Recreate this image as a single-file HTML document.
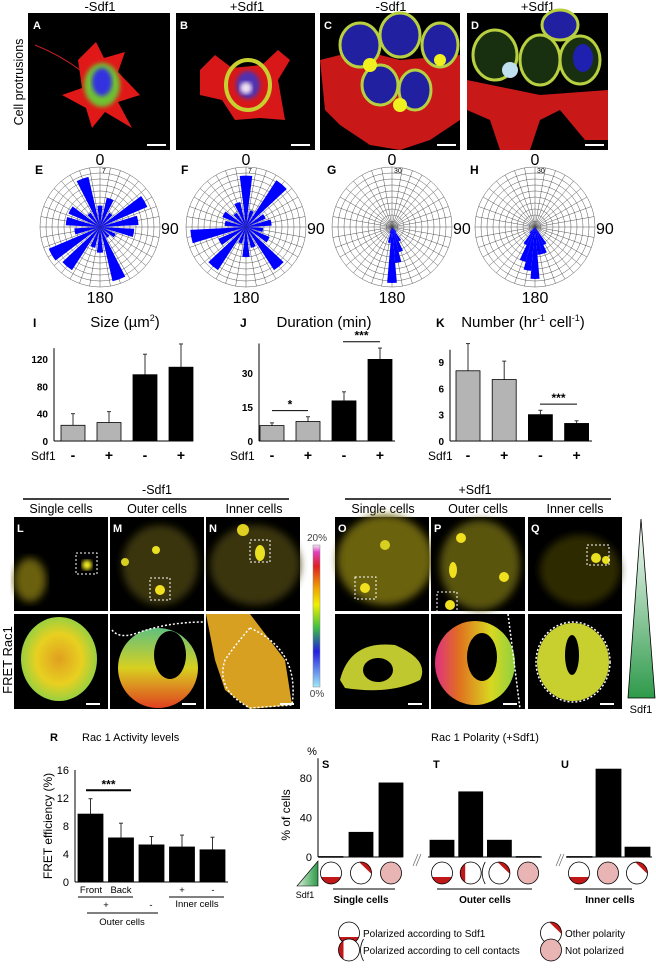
<!DOCTYPE html>
<html><head><meta charset="utf-8">
<style>
html,body{margin:0;padding:0;background:#fff;}
svg{display:block;font-family:"Liberation Sans",Arial,sans-serif;}
</style></head>
<body>
<svg id="fig" width="656" height="972" viewBox="0 0 656 972" xmlns="http://www.w3.org/2000/svg">
<defs>
<filter id="blur2"><feGaussianBlur stdDeviation="2"/></filter>
<filter id="blur4"><feGaussianBlur stdDeviation="4"/></filter>
<linearGradient id="cbar" x1="0" y1="0" x2="0" y2="1">
<stop offset="0" stop-color="#f4e8f8"/><stop offset="0.05" stop-color="#e040c0"/><stop offset="0.15" stop-color="#e02020"/><stop offset="0.3" stop-color="#f0a000"/><stop offset="0.42" stop-color="#f0f000"/><stop offset="0.58" stop-color="#40c040"/><stop offset="0.75" stop-color="#2020e0"/><stop offset="1" stop-color="#a0e8f8"/></linearGradient>
<linearGradient id="tri" x1="0" y1="0" x2="0" y2="1"><stop offset="0" stop-color="#fff"/><stop offset="1" stop-color="#2e9a4a"/></linearGradient>
<linearGradient id="tri2" x1="1" y1="0" x2="0" y2="0"><stop offset="0" stop-color="#2e9a4a"/><stop offset="1" stop-color="#d8f0d8"/></linearGradient>
<radialGradient id="fretA"><stop offset="0" stop-color="#e0a020"/><stop offset="0.6" stop-color="#e8d020"/><stop offset="1" stop-color="#9ad040"/></radialGradient>
<linearGradient id="fretB" x1="0" y1="0" x2="0" y2="1"><stop offset="0" stop-color="#60c080"/><stop offset="0.5" stop-color="#d8d020"/><stop offset="1" stop-color="#e04020"/></linearGradient>
<linearGradient id="fretP" x1="0" y1="0" x2="1" y2="0"><stop offset="0" stop-color="#e03080"/><stop offset="0.3" stop-color="#e07020"/><stop offset="0.7" stop-color="#d8d820"/><stop offset="1" stop-color="#90d040"/></linearGradient>
</defs>

<g font-size="13" text-anchor="middle" fill="#000">
<text x="100" y="11">-Sdf1</text>
<text x="247" y="11">+Sdf1</text>
<text x="391" y="11">-Sdf1</text>
<text x="538" y="11">+Sdf1</text>
</g>
<text transform="translate(23,82) rotate(-90)" font-size="12.5" text-anchor="middle">Cell protrusions</text>

<g>
<rect x="28" y="13" width="142" height="137" fill="#000"/>
<path d="M35 45 Q60 55 80 70" stroke="#c02020" stroke-width="1" fill="none"/>
<polygon points="78,60 96,42 104,58 125,52 118,72 140,95 118,102 132,128 105,112 92,128 86,108 62,95 82,88" fill="#e01818"/>
<ellipse cx="102" cy="85" rx="18" ry="22" fill="#70c030" filter="url(#blur2)"/>
<ellipse cx="102" cy="82" rx="10" ry="14" fill="#3030e0" filter="url(#blur2)"/>
<text x="33" y="29" fill="#fff" font-weight="bold" font-size="11">A</text>
<rect x="147" y="144" width="19" height="2" fill="#fff"/>
</g>
<g>
<rect x="176" y="13" width="139" height="137" fill="#000"/>
<polygon points="200,70 215,55 232,68 262,65 278,50 290,60 278,80 285,120 260,118 235,120 222,100 200,95" fill="#d81818"/>
<ellipse cx="248" cy="85" rx="22" ry="25" fill="none" stroke="#c8d030" stroke-width="4"/>
<ellipse cx="248" cy="85" rx="12" ry="14" fill="#5030b0" filter="url(#blur2)"/>
<ellipse cx="246" cy="88" rx="6" ry="6" fill="#f0e0f0" filter="url(#blur2)"/>
<text x="180" y="29" fill="#fff" font-weight="bold" font-size="11">B</text>
<rect x="291" y="144" width="19" height="2" fill="#fff"/>
</g>
<g>
<rect x="320" y="13" width="140" height="137" fill="#000"/>
<polygon points="320,60 360,50 400,60 460,55 460,120 430,140 400,150 370,145 340,125 325,110" fill="#c81818"/>
<g stroke="#b8d040" stroke-width="3" fill="#2020a0">
<ellipse cx="360" cy="45" rx="20" ry="22"/><ellipse cx="400" cy="35" rx="20" ry="22"/><ellipse cx="440" cy="45" rx="18" ry="22"/>
<ellipse cx="380" cy="85" rx="18" ry="20"/><ellipse cx="415" cy="90" rx="16" ry="20"/></g>
<circle cx="370" cy="65" r="7" fill="#f0f020"/><circle cx="400" cy="105" r="7" fill="#f0f020"/><circle cx="440" cy="60" r="6" fill="#f0f020"/>
<text x="324" y="29" fill="#fff" font-weight="bold" font-size="11">C</text>
<rect x="437" y="144" width="19" height="2" fill="#fff"/>
</g>
<g>
<rect x="467" y="13" width="141" height="137" fill="#000"/>
<polygon points="467,80 540,95 608,90 608,140 585,140 560,110 540,120 530,150 500,150 490,120 467,110" fill="#c81818"/>
<g stroke="#b8d040" stroke-width="3" fill="#183010">
<ellipse cx="495" cy="55" rx="22" ry="25"/><ellipse cx="540" cy="60" rx="20" ry="25"/><ellipse cx="580" cy="60" rx="20" ry="24"/>
<ellipse cx="560" cy="25" rx="18" ry="15" fill="#2020a0"/></g>
<ellipse cx="583" cy="58" rx="10" ry="14" fill="#2020b0"/>
<circle cx="510" cy="70" r="8" fill="#c0e0f0"/>
<text x="471" y="29" fill="#fff" font-weight="bold" font-size="11">D</text>
<rect x="585" y="144" width="19" height="2" fill="#fff"/>
</g>

<g font-size="12.5" text-anchor="middle">
<text x="157" y="494">-Sdf1</text>
<line x1="23" y1="499" x2="289" y2="499" stroke="#000" stroke-width="1.5"/>
<text x="61" y="513">Single cells</text>
<text x="157" y="513">Outer cells</text>
<text x="254" y="513">Inner cells</text>
<text x="475" y="494">+Sdf1</text>
<line x1="345" y1="499" x2="611" y2="499" stroke="#000" stroke-width="1.5"/>
<text x="383" y="513">Single cells</text>
<text x="478" y="513">Outer cells</text>
<text x="575" y="513">Inner cells</text>
</g>
<text transform="translate(12,660) rotate(-90)" font-size="13" text-anchor="middle">FRET Rac1</text>

<g><rect x="14" y="517" width="94" height="94" fill="#000"/>
<ellipse cx="30" cy="580" rx="16" ry="22" fill="#6a6010" filter="url(#blur4)"/><circle cx="87" cy="565" r="5" fill="#f8f020" filter="url(#blur2)"/>
<rect x="76" y="553" width="21" height="21" fill="none" stroke="#fff" stroke-dasharray="2,2"/>
<text x="17" y="532" fill="#fff" font-weight="bold" font-size="11">L</text></g>
<g><rect x="110" y="517" width="94" height="94" fill="#000"/>
<ellipse cx="160" cy="565" rx="38" ry="40" fill="#3a3608" filter="url(#blur4)"/><circle cx="156" cy="550" r="4" fill="#e8e020"/><circle cx="160" cy="590" r="5" fill="#f0e020"/><circle cx="125" cy="562" r="4" fill="#d8d020"/>
<rect x="150" y="578" width="20" height="22" fill="none" stroke="#fff" stroke-dasharray="2,2"/>
<text x="113" y="532" fill="#fff" font-weight="bold" font-size="11">M</text></g>
<g><rect x="206" y="517" width="94" height="94" fill="#000"/>
<ellipse cx="255" cy="565" rx="45" ry="40" fill="#3a3608" filter="url(#blur4)"/><circle cx="243" cy="530" r="6" fill="#e0d020"/><ellipse cx="260" cy="553" rx="5" ry="8" fill="#e8e020"/>
<rect x="250" y="540" width="20" height="22" fill="none" stroke="#fff" stroke-dasharray="2,2"/>
<text x="209" y="532" fill="#fff" font-weight="bold" font-size="11">N</text></g>
<g><rect x="335" y="517" width="94" height="94" fill="#000"/>
<ellipse cx="385" cy="560" rx="48" ry="45" fill="#6a6210" filter="url(#blur4)"/><circle cx="365" cy="588" r="5" fill="#f0e020"/><circle cx="385" cy="545" r="5" fill="#d8d020"/>
<rect x="355" y="577" width="21" height="22" fill="none" stroke="#fff" stroke-dasharray="2,2"/>
<text x="338" y="532" fill="#fff" font-weight="bold" font-size="11">O</text></g>
<g><rect x="431" y="517" width="94" height="94" fill="#000"/>
<ellipse cx="480" cy="565" rx="40" ry="45" fill="#5a5410" filter="url(#blur4)"/><circle cx="461" cy="538" r="5" fill="#f0e020"/><circle cx="450" cy="605" r="5" fill="#f0e020"/><circle cx="504" cy="577" r="5" fill="#f0e020"/><ellipse cx="453" cy="570" rx="4" ry="8" fill="#f0e020"/>
<rect x="437" y="592" width="20" height="24" fill="none" stroke="#fff" stroke-dasharray="2,2"/>
<text x="434" y="532" fill="#fff" font-weight="bold" font-size="11">P</text></g>
<g><rect x="528" y="517" width="94" height="94" fill="#000"/>
<ellipse cx="580" cy="570" rx="40" ry="35" fill="#2e2a06" filter="url(#blur4)"/><circle cx="596" cy="558" r="5" fill="#e8e020"/><circle cx="606" cy="560" r="4" fill="#e8e020"/>
<rect x="587" y="545" width="22" height="20" fill="none" stroke="#fff" stroke-dasharray="2,2"/>
<text x="531" y="532" fill="#fff" font-weight="bold" font-size="11">Q</text></g>

<g><rect x="14" y="614" width="94" height="95" fill="#000"/>
<ellipse cx="59" cy="659" rx="38" ry="42" fill="url(#fretA)"/><rect x="86" y="703" width="14" height="2" fill="#fff"/></g>
<g><rect x="110" y="614" width="94" height="95" fill="#000"/>
<ellipse cx="158" cy="668" rx="40" ry="40" fill="url(#fretB)"/><ellipse cx="170" cy="655" rx="16" ry="24" fill="#000"/>
<path d="M112 630 Q120 640 140 632 Q170 622 204 622" stroke="#fff" stroke-dasharray="2,2" fill="none" stroke-width="1.5"/>
<rect x="182" y="703" width="14" height="2" fill="#fff"/></g>
<g><rect x="206" y="614" width="94" height="95" fill="#000"/>
<path d="M206 614 L250 614 L285 660 L292 705 L250 709 L225 690 L215 660 Z" fill="#d8a020"/>
<path d="M250 628 Q300 650 292 705 L250 708 Q215 690 225 660 Q235 645 250 628" stroke="#fff" stroke-dasharray="2,2" fill="none" stroke-width="1.5"/>
<rect x="280" y="703" width="14" height="2" fill="#fff"/></g>
<g><rect x="335" y="614" width="94" height="95" fill="#000"/>
<path d="M340 680 Q350 640 395 645 Q430 660 420 680 Q390 695 345 688 Z" fill="#c0c830"/><ellipse cx="378" cy="670" rx="15" ry="12" fill="#000"/>
<rect x="408" y="703" width="14" height="2" fill="#fff"/></g>
<g><rect x="431" y="614" width="94" height="95" fill="#000"/>
<ellipse cx="475" cy="663" rx="40" ry="42" fill="url(#fretP)"/><ellipse cx="482" cy="657" rx="15" ry="24" fill="#000"/>
<line x1="508" y1="614" x2="520" y2="709" stroke="#fff" stroke-dasharray="2,2" stroke-width="1.5"/>
<rect x="503" y="703" width="14" height="2" fill="#fff"/></g>
<g><rect x="528" y="614" width="94" height="95" fill="#000"/>
<ellipse cx="573" cy="662" rx="36" ry="39" fill="#c8d030"/><ellipse cx="572" cy="655" rx="7" ry="20" fill="#000"/>
<ellipse cx="573" cy="662" rx="37" ry="40" fill="none" stroke="#fff" stroke-dasharray="2,2" stroke-width="1.5"/>
<rect x="600" y="703" width="14" height="2" fill="#fff"/></g>

<rect x="313" y="545" width="7" height="142" fill="url(#cbar)" stroke="#888" stroke-width="0.5"/>
<text x="317" y="541" font-size="10" text-anchor="middle" fill="#444">20%</text>
<text x="317" y="697" font-size="10" text-anchor="middle" fill="#444">0%</text>
<polygon points="641,519 628,698 655,698" fill="url(#tri)" stroke="#000" stroke-width="0.8"/>
<text x="641" y="713" font-size="11" text-anchor="middle">Sdf1</text>

<text x="50" y="741" font-size="11" font-weight="bold">R</text>
<text x="82" y="741" font-size="11">Rac 1 Activity levels</text>
<text x="485" y="741" font-size="11" text-anchor="middle">Rac 1 Polarity (+Sdf1)</text>
<text transform="translate(52,826) rotate(-90)" font-size="12" text-anchor="middle">FRET efficiency (%)</text>
<text transform="translate(290,815) rotate(-90)" font-size="12" text-anchor="middle">% of cells</text>
<text x="312" y="755" font-size="11" text-anchor="middle">%</text>

<g font-size="9.5" text-anchor="middle">
<text x="91" y="893">Front</text>
<text x="121" y="893">Back</text>
<line x1="78" y1="897" x2="133" y2="897" stroke="#000"/>
<text x="106" y="908">+</text>
<text x="151" y="908">-</text>
<line x1="87" y1="913" x2="158" y2="913" stroke="#000"/>
<text x="122" y="925">Outer cells</text>
<text x="182" y="893">+</text>
<text x="213" y="893">-</text>
<line x1="169" y1="897" x2="224" y2="897" stroke="#000"/>
<text x="197" y="907">Inner cells</text>
</g>

<g font-size="11" font-weight="bold">
<text x="322" y="768">S</text>
<text x="433" y="768">T</text>
<text x="561" y="768">U</text>
</g>
<polygon points="318,861 318,886 297,886" fill="url(#tri2)" stroke="#000" stroke-width="0.6"/>
<text x="305" y="898" font-size="9" text-anchor="middle">Sdf1</text>
<g font-size="10" font-weight="bold" text-anchor="middle">
<line x1="333" y1="889" x2="395" y2="889" stroke="#000"/><text x="361" y="903">Single cells</text>
<line x1="437" y1="889" x2="532" y2="889" stroke="#000"/><text x="485" y="903">Outer cells</text>
<line x1="574" y1="889" x2="632" y2="889" stroke="#000"/><text x="610" y="903">Inner cells</text>
</g>
<g stroke="#666" stroke-width="0.7">
<line x1="413" y1="866" x2="418" y2="854"/><line x1="416" y1="866" x2="421" y2="854"/>
<line x1="556" y1="866" x2="561" y2="854"/><line x1="559" y1="866" x2="564" y2="854"/>
</g>
<g font-size="10">
<text x="363" y="937">Polarized according to Sdf1</text>
<text x="363" y="954">Polarized according to cell contacts</text>
<text x="565" y="937">Other polarity</text>
<text x="565" y="954">Not polarized</text>
</g>
<g id="charts"></g>
</svg>

<script>
const roseEVals = [2.5,3.5,2,6,4.5,4,2,1.5,6.5,3,2.5,6,6.5,3,4,4,2,6];
const roseFVals = [6,2,6.5,2.5,3,2,3,6,2.5,3.5,2,6,3.5,6.5,2.5,3,2,3];
const roseGVals = [0,0,0,0,0,0,0,0,0,0,0,0,0,0,3,8,13,18,28,8,3,0,0,0,0,0,0,0,0,0,0,0,0,0,0,0];
const roseHVals = [0,0,0,0,0,0,0,0,0,0,0,0,0,0,0,10,14,14,26,22,18,10,4,0,0,0,0,0,0,0,0,0,0,0,0,0];
const roseMaxEF = 7;
const roseMaxGH = 30;
const sdf1Labels = ['-','+','-','+'];
const sizeVals = [23,27,97,108];
const sizeErr = [17,16,30,34];
const sizeTicks = [0,40,80,120];
const durVals = [6.8,8.6,17.7,36];
const durErr = [1.2,2.1,4,5];
const durTicks = [0,15,30];
const numVals = [8,7,3,2];
const numErr = [3.1,2.1,0.5,0.3];
const numTicks = [0,3,6,9];
const rVals = [9.7,6.3,5.3,5.0,4.6];
const rErr = [2.2,2.1,1.2,1.7,1.8];
const rTicks = [0,4,8,12,16];
const polarS = [0.5,25,75];
const polarT = [17,66,17,0.5];
const polarU = [0.5,89,10];
const polarTicks = [0,40,80];
const iconsS = ['sdf','other','not'];
const iconsT = ['sdf','contact','other','not'];
const iconsU = ['sdf','not','other'];

const NS = 'http://www.w3.org/2000/svg';
const root = document.getElementById('charts');
function mk(tag, attrs, parent){
  const e = document.createElementNS(NS, tag);
  for (const k in attrs) e.setAttribute(k, attrs[k]);
  (parent||root).appendChild(e);
  return e;
}
function pol(cx,cy,r,deg){const a=(deg-90)*Math.PI/180;return [cx+r*Math.cos(a),cy+r*Math.sin(a)];}

function drawRose(letter, cx, cy, vals, vmax, maxLabel, fillFrac){
  const g = mk('g', {});
  
  
  const R = 60;
  for (let i=1;i<=10;i++){
    const c = mk('circle',{cx:cx,cy:cy,r:R*i/10,fill:'none',stroke:'#555','stroke-width':0.5},g);
    
    
  }
  for (let a=0;a<360;a+=10){
    const p = pol(cx,cy,R,a);
    const l = mk('line',{x1:cx,y1:cy,x2:p[0],y2:p[1],stroke:'#555','stroke-width':0.5},g);
    
    
  }
  const bw = 360/vals.length;
  const hw = bw*fillFrac/2;
  vals.forEach(function(v,i){
    if (v<=0) return;
    const r = R*v/vmax;
    const a0 = i*bw - hw, a1 = i*bw + hw;
    const p0 = pol(cx,cy,r,a0), p1 = pol(cx,cy,r,a1);
    const w = mk('path',{d:'M'+cx+' '+cy+' L'+p0[0]+' '+p0[1]+' A'+r+' '+r+' 0 0 1 '+p1[0]+' '+p1[1]+' Z',fill:'#0000ff'},g);
    
    
  });
  const t0 = mk('text',{x:cx,y:cy-62,'font-size':16,'text-anchor':'middle'},g); t0.textContent='0';
  
  
  const t90 = mk('text',{x:cx+61,y:cy+7,'font-size':16},g); t90.textContent='90';
  
  
  const t180 = mk('text',{x:cx,y:cy+76,'font-size':16,'text-anchor':'middle'},g); t180.textContent='180';
  
  
  const tm = mk('text',{x:cx+2,y:cy-54,'font-size':7},g); tm.textContent=maxLabel;
  
  
  const tl = mk('text',{x:cx-65,y:cy-53,'font-size':12,'font-weight':'bold'},g); tl.textContent=letter;
  
  
}
drawRose('E',100,227,roseEVals,roseMaxEF,'7',0.7);
drawRose('F',246,227,roseFVals,roseMaxEF,'7',0.7);
drawRose('G',392,227,roseGVals,roseMaxGH,'30',1);
drawRose('H',535,227,roseHVals,roseMaxGH,'30',1);

function drawBars(o){
  const g = mk('g',{});
  
  
  const y = function(v){ return o.base - v*o.scale; };
  const ax = mk('line',{x1:o.x0,y1:y(o.axisTop),x2:o.x0,y2:o.base,stroke:'#000','stroke-width':1},g);
  
  
  const bx = mk('line',{x1:o.x0,y1:o.base,x2:o.x1,y2:o.base,stroke:'#000','stroke-width':1},g);
  
  
  o.ticks.forEach(function(t){
    const tt = mk('text',{x:o.x0-6,y:y(t)+4,'font-size':o.tickSize||10,'font-weight':o.tickBold?'bold':'normal','text-anchor':'end'},g);
    tt.textContent = t;
    
    
  });
  o.vals.forEach(function(v,i){
    const bxp = o.barStart + i*o.pitch;
    const col = o.colors ? o.colors[i] : '#000';
    if (o.err){
      const e = mk('line',{x1:bxp+o.bw/2,y1:y(v),x2:bxp+o.bw/2,y2:y(v+o.err[i]),stroke:'#333','stroke-width':1},g);
      
      
      const c = mk('line',{x1:bxp+o.bw/2-2,y1:y(v+o.err[i]),x2:bxp+o.bw/2+2,y2:y(v+o.err[i]),stroke:'#333','stroke-width':1},g);
      
      
    }
    const b = mk('rect',{x:bxp,y:y(v),width:o.bw,height:Math.max(o.base-y(v),0.8),fill:col,stroke:'#000','stroke-width':0.8},g);
    
    
    if (o.xlabels){
      const xl = mk('text',{x:bxp+o.bw/2,y:o.base+19,'font-size':14,'font-weight':'bold','text-anchor':'middle'},g);
      xl.textContent = o.xlabels[i];
      
      
    }
  });
  if (o.sdfX!==undefined){
    const s = mk('text',{x:o.sdfX,y:o.base+19,'font-size':12},g); s.textContent='Sdf1';
    
    
  }
  if (o.title){
    const t = mk('text',{x:o.titleX,y:327,'font-size':15,'text-anchor':'middle'},g); t.innerHTML=o.title;
    
    
    const l = mk('text',{x:o.letterX,y:327,'font-size':12,'font-weight':'bold'},g); l.textContent=o.letter;
    
    
  }
  (o.sig||[]).forEach(function(s){
    const ly = y(s.v);
    const sl = mk('line',{x1:s.xa,y1:ly,x2:s.xb,y2:ly,stroke:'#000','stroke-width':s.w||1},g);
    
    
    const st = mk('text',{x:(s.xa+s.xb)/2,y:ly-2,'font-size':12,'font-weight':'bold','text-anchor':'middle'},g); st.textContent=s.txt;
    
    
  });
  return y;
}
const gray4 = ['#b4b4b4','#b4b4b4','#000','#000'];
drawBars({name:'size-chart',x0:54,x1:193,base:441,scale:82/120,axisTop:136,ticks:sizeTicks,vals:sizeVals,err:sizeErr,barStart:61,pitch:36,bw:24,colors:gray4,xlabels:sdf1Labels,sdfX:31,title:'Size (<tspan>\u00b5m</tspan><tspan font-size="9" dy="-6">2</tspan><tspan dy="6">)</tspan>',titleX:125,letter:'I',letterX:33,tickBold:true});
drawBars({name:'duration-chart',x0:259,x1:395,base:441,scale:68/30,axisTop:43,ticks:durTicks,vals:durVals,err:durErr,barStart:260,pitch:36,bw:24,colors:gray4,xlabels:sdf1Labels,sdfX:230,title:'Duration (min)',titleX:324,letter:'J',letterX:240,tickBold:true,
  sig:[{v:13.4,xa:272,xb:308,txt:'*'},{v:43.8,xa:343,xb:380,txt:'***'}]});
drawBars({name:'number-chart',x0:450,x1:592,base:441,scale:79/9,axisTop:10.4,ticks:numTicks,vals:numVals,err:numErr,barStart:456,pitch:36.2,bw:24,colors:gray4,xlabels:sdf1Labels,sdfX:428,title:'Number (hr<tspan font-size="9" dy="-6">-1</tspan><tspan dy="6"> cell</tspan><tspan font-size="9" dy="-6">-1</tspan><tspan dy="6">)</tspan>',titleX:523,letter:'K',letterX:436,tickBold:true,
  sig:[{v:4.2,xa:540,xb:577,txt:'***'}]});
drawBars({name:'rac1-activity-chart',x0:75,x1:228,base:882,scale:7,axisTop:16,ticks:rTicks,vals:rVals,err:rErr,barStart:78,pitch:30.5,bw:25,tickSize:11,
  sig:[{v:13.1,xa:86,xb:131,txt:'***',w:2}]});

drawBars({name:'polarity-s-chart',x0:318,x1:402,base:857,scale:79/80,axisTop:100,ticks:polarTicks,vals:polarS,barStart:319,pitch:30,bw:24,tickSize:11});
drawBars({name:'polarity-t-chart',x0:428,x1:542,base:857,scale:79/80,axisTop:0,ticks:[],vals:polarT,barStart:430,pitch:28.7,bw:24});
drawBars({name:'polarity-u-chart',x0:566,x1:652,base:857,scale:79/80,axisTop:0,ticks:[],vals:polarU,barStart:567,pitch:29,bw:25});

let clipId = 0;
function icon(type, cx, cy, parent){
  const g = mk('g',{},parent);
  
  
  const rx = 10.5, ry = 11;
  clipId++;
  const cp = mk('clipPath',{id:'cp'+clipId},g);
  mk('ellipse',{cx:cx,cy:cy,rx:rx,ry:ry},cp);
  if (type==='not'){
    mk('ellipse',{cx:cx,cy:cy,rx:rx,ry:ry,fill:'#e8b4b4'},g);
  } else if (type==='sdf'){
    mk('ellipse',{cx:cx,cy:cy,rx:rx,ry:ry,fill:'#fff'},g);
    mk('rect',{x:cx-rx,y:cy+4,width:2*rx,height:8,fill:'#c01818','clip-path':'url(#cp'+clipId+')'},g);
  } else if (type==='other'){
    mk('ellipse',{cx:cx,cy:cy,rx:rx,ry:ry,fill:'#fff'},g);
    mk('polygon',{points:(cx-2)+','+(cy-ry)+' '+(cx+rx)+','+(cy-ry)+' '+(cx+rx)+','+(cy+1),fill:'#c01818','clip-path':'url(#cp'+clipId+')'},g);
  } else if (type==='contact'){
    mk('ellipse',{cx:cx,cy:cy,rx:rx,ry:ry,fill:'#fff'},g);
    mk('rect',{x:cx-rx,y:cy-ry,width:5,height:2*ry,fill:'#c01818','clip-path':'url(#cp'+clipId+')'},g);
    mk('path',{d:'M'+(cx+rx+4)+' '+(cy-ry)+' Q'+(cx+rx-2)+' '+cy+' '+(cx+rx+4)+' '+(cy+ry),fill:'none',stroke:'#000','stroke-width':0.8},g);
  }
  mk('ellipse',{cx:cx,cy:cy,rx:rx,ry:ry,fill:'none',stroke:'#000','stroke-width':0.8},g);
}
iconsS.forEach(function(t,i){ icon(t, 331+i*30, 873); });
iconsT.forEach(function(t,i){ icon(t, 442+i*28.7, 873); });
iconsU.forEach(function(t,i){ icon(t, 579+i*29, 873); });
icon('sdf',349,933); icon('contact',349,950); icon('other',551,933); icon('not',551,950);
</script>
</body></html>
